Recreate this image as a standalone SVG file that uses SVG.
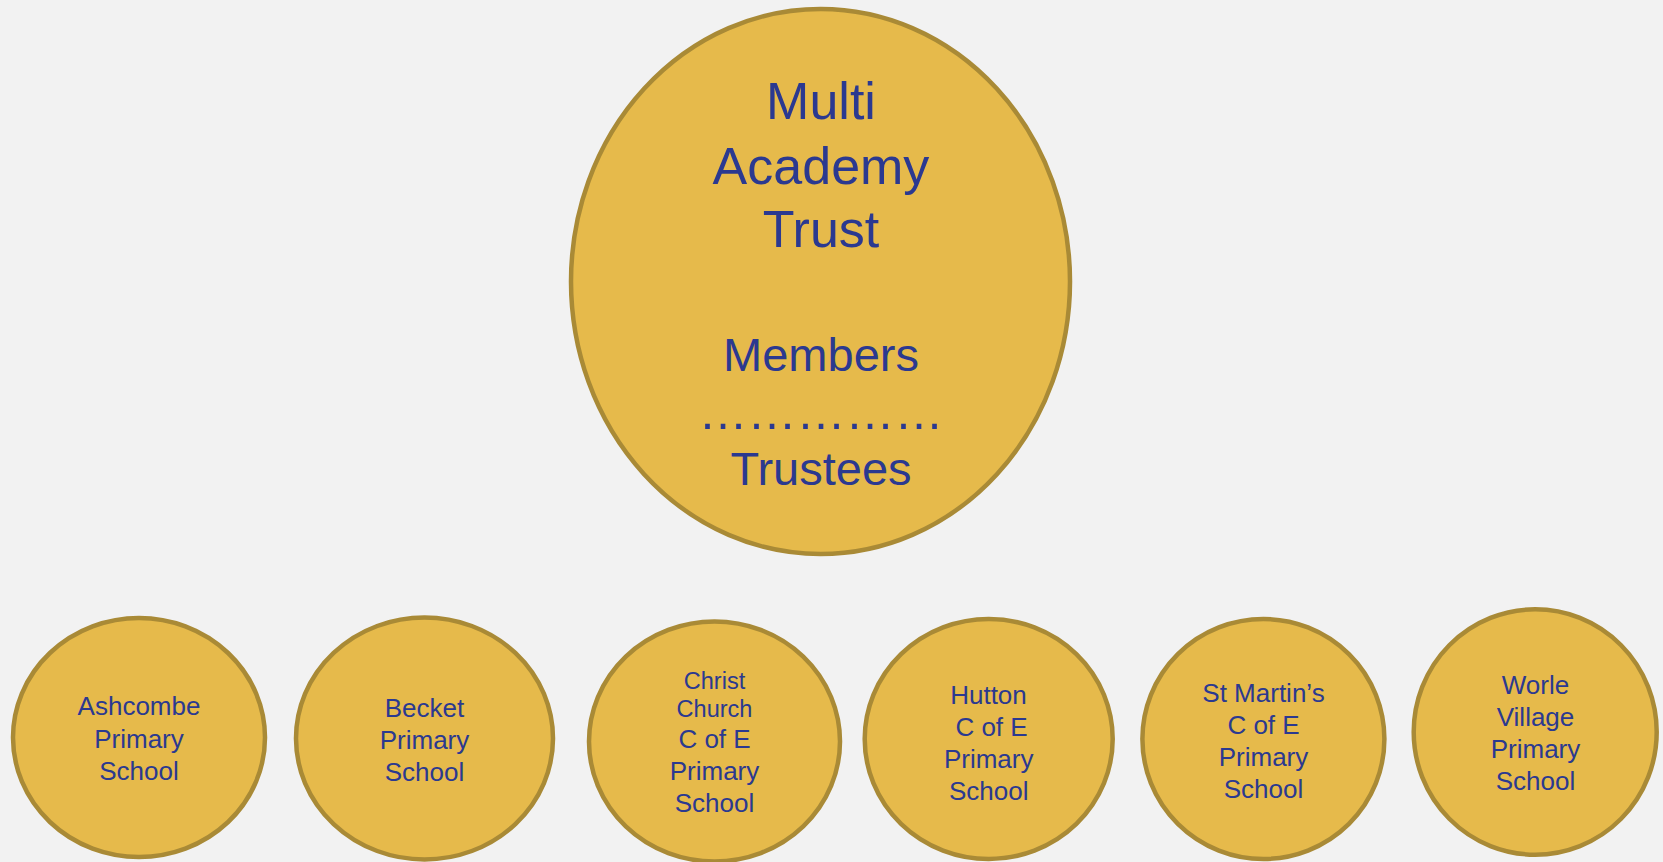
<svg xmlns="http://www.w3.org/2000/svg" width="1663" height="862" viewBox="0 0 1663 862">
<style>
.node{fill:#E6BA4B;stroke:#A98A36;stroke-width:4.5}
text{font-family:"Liberation Sans",Arial,sans-serif;fill:#2B3990;text-anchor:middle}
.big{font-size:52px}
.mid{font-size:47px}
.sm{font-size:26px}
.xs{font-size:23.5px}
</style>
<rect width="1663" height="862" fill="#F2F2F2"/>
<g id="connectors"/>
<g id="trust">
<ellipse class="node" cx="820.5" cy="281.5" rx="249.5" ry="272.5"/>
<text class="big" x="821" y="119">Multi</text>
<text class="big" x="821" y="183.5">Academy</text>
<text class="big" x="821" y="247">Trust</text>
<text class="mid" x="821" y="371">Members</text>
<text x="821" y="428.5" style="font-size:49px">……………</text>
<text class="mid" x="821" y="484.5">Trustees</text>
</g>
<g id="ashcombe">
<ellipse class="node" cx="139" cy="737.5" rx="126" ry="119.5"/>
<text class="sm" x="139" y="715">Ashcombe</text>
<text class="sm" x="139" y="747.5">Primary</text>
<text class="sm" x="139" y="780">School</text>
</g>
<g id="becket">
<ellipse class="node" cx="424.5" cy="738.5" rx="128.5" ry="121"/>
<text class="sm" x="424.5" y="716.5">Becket</text>
<text class="sm" x="424.5" y="748.5">Primary</text>
<text class="sm" x="424.5" y="781">School</text>
</g>
<g id="christchurch">
<ellipse class="node" cx="714.5" cy="741.5" rx="125.5" ry="120"/>
<text class="xs" x="714.5" y="688.5">Christ</text>
<text class="xs" x="714.5" y="716.5">Church</text>
<text class="sm" x="714.5" y="747.5">C of E</text>
<text class="sm" x="714.5" y="780">Primary</text>
<text class="sm" x="714.5" y="811.5">School</text>
</g>
<g id="hutton">
<ellipse class="node" cx="988.7" cy="739" rx="124" ry="120"/>
<text class="sm" x="988.5" y="704">Hutton</text>
<text class="sm" x="991.5" y="736">C of E</text>
<text class="sm" x="988.7" y="767.5">Primary</text>
<text class="sm" x="988.7" y="799.5">School</text>
</g>
<g id="stmartins">
<ellipse class="node" cx="1263.4" cy="739" rx="121" ry="120"/>
<text class="sm" x="1263.5" y="701.5">St Martin’s</text>
<text class="sm" x="1263.5" y="734">C of E</text>
<text class="sm" x="1263.5" y="766">Primary</text>
<text class="sm" x="1263.5" y="797.5">School</text>
</g>
<g id="worle">
<ellipse class="node" cx="1535.2" cy="732" rx="121.5" ry="122.7"/>
<text class="sm" x="1535.5" y="693.5">Worle</text>
<text class="sm" x="1535.5" y="725.5">Village</text>
<text class="sm" x="1535.5" y="757.5">Primary</text>
<text class="sm" x="1535.5" y="789.5">School</text>
</g>
</svg>
